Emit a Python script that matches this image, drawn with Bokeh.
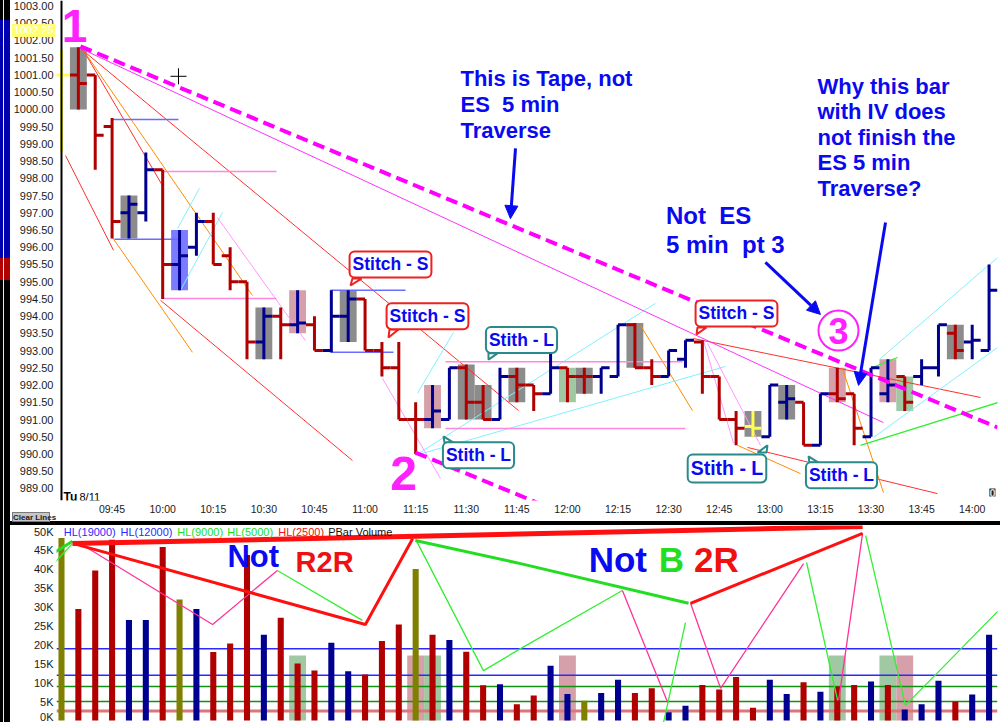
from bokeh.plotting import figure
from bokeh.models import (Range1d, FixedTicker, PrintfTickFormatter, Label, Arrow,
                          NormalHead, Div, Span)
from bokeh.layouts import column, row
from bokeh.core.properties import value
from bokeh.embed import file_html
from bokeh.resources import INLINE

# ---------------- data ----------------
TIMES = ["09:30", "09:35", "09:40", "09:45", "09:50", "09:55", "10:00", "10:05", "10:10", "10:15",
         "10:20", "10:25", "10:30", "10:35", "10:40", "10:45", "10:50", "10:55", "11:00", "11:05",
         "11:10", "11:15", "11:20", "11:25", "11:30", "11:35", "11:40", "11:45", "11:50", "11:55",
         "12:00", "12:05", "12:10", "12:15", "12:20", "12:25", "12:30", "12:35", "12:40", "12:45",
         "12:50", "12:55", "13:00", "13:05", "13:10", "13:15", "13:20", "13:25", "13:30", "13:35",
         "13:40", "13:45", "13:50", "13:55", "14:00", "14:05"]
OPEN = [1001.0, 1001.0, 1001.0, 999.5, 997.0, 997.0, 998.25, 995.5, 996.0, 996.75,
        995.75, 995.0, 993.25, 994.0, 993.75, 993.75, 993.0, 994.0, 994.5, 993.0,
        992.5, 991.0, 991.0, 991.0, 992.5, 991.5, 991.0, 992.25, 992.0, 991.75,
        992.5, 992.25, 992.25, 992.25, 993.75, 992.5, 992.25, 992.75, 993.25, 992.25,
        991.0, 990.8, 990.5, 991.5, 991.5, 990.25, 991.75, 991.75, 990.5, 991.75,
        992.25, 992.25, 992.5, 993.5, 993.25, 993.0]
HIGH = [1001.75, 1001.8, 1001.0, 999.75, 997.5, 998.75, 998.25, 996.5, 997.0, 997.0,
        996.0, 995.0, 994.25, 994.25, 994.75, 994.0, 994.75, 994.75, 994.5, 993.25,
        993.25, 991.5, 992.0, 992.5, 992.6, 992.0, 992.5, 992.5, 992.0, 993.0,
        992.5, 992.5, 992.5, 993.75, 993.8, 992.75, 993.0, 993.3, 993.3, 992.25,
        991.25, 991.25, 992.0, 992.0, 991.5, 991.75, 992.5, 991.75, 992.5, 992.75,
        992.25, 992.75, 993.75, 993.75, 993.75, 995.5]
LOW = [998.75, 1000.0, 998.25, 996.25, 996.25, 996.75, 994.5, 994.75, 995.75, 995.5,
       994.75, 992.75, 992.75, 992.75, 993.5, 993.0, 992.95, 993.25, 993.0, 992.25,
       991.0, 990.0, 990.75, 991.0, 991.0, 991.0, 991.0, 991.5, 991.25, 991.75,
       991.5, 991.75, 991.75, 992.25, 992.5, 992.0, 992.25, 992.5, 991.75, 991.0,
       990.25, 990.5, 990.5, 991.0, 990.25, 990.25, 991.5, 990.25, 990.5, 991.5,
       991.25, 992.0, 992.25, 992.75, 992.75, 993.0]
CLOSE = [1001.0, 1000.75, 999.25, 996.75, 997.25, 998.25, 995.5, 995.75, 996.75, 995.5,
         995.0, 993.25, 994.0, 993.75, 993.8, 993.0, 994.0, 994.5, 993.0, 992.5,
         991.0, 991.0, 991.25, 992.5, 991.5, 991.0, 992.25, 992.0, 991.75, 992.5,
         992.25, 992.25, 992.5, 993.75, 992.5, 992.25, 993.0, 993.3, 992.25, 991.0,
         990.75, 990.75, 992.0, 991.6, 990.25, 991.75, 991.6, 990.75, 992.5, 992.0,
         991.5, 992.5, 993.75, 993.0, 993.3, 994.75]
BAR_KIND = ["yellow", "red", "red", "red", "blue", "blue", "red", "blue", "blue", "red",
            "red", "red", "blue", "red", "blue", "red", "blue", "blue", "red", "red",
            "red", "red", "blue", "blue", "red", "red", "blue", "red", "red", "blue",
            "red", "red", "blue", "blue", "red", "red", "blue", "blue", "red", "red",
            "red", "yellow", "blue", "blue", "red", "blue", "red", "red", "blue", "blue",
            "red", "blue", "blue", "red", "blue", "blue"]
PRICE_BOXES = [("09:35", "gray"), ("09:50", "gray"), ("10:05", "blue"), ("10:30", "gray"),
               ("10:40", "pink"), ("10:55", "gray"), ("11:20", "pink"), ("11:30", "gray"),
               ("11:35", "gray"), ("11:45", "gray"), ("12:00", "green"), ("12:05", "gray"),
               ("12:20", "gray"), ("12:55", "gray"), ("13:05", "gray"), ("13:20", "pink"),
               ("13:35", "pink"), ("13:40", "green"), ("13:55", "gray")]

VOLUME = [48300, 29500, 39700, 47800, 26600, 26600, 45900, 32000, 29500, 18100,
          20400, 43800, 22700, 27200, 15100, 13200, 20600, 13000, 12200, 21000,
          25400, 40100, 22700, 21300, 18200, 9300, 9600, 4300, 6600, 14500,
          7000, 5200, 7300, 10800, 7300, 8500, 2200, 3900, 9400, 8200,
          11500, 3400, 10800, 7000, 10100, 7600, 9000, 9400, 10300, 9400,
          2900, 4300, 10500, 5000, 6900, 22700]
VOL_KIND = ["olive", "red", "red", "red", "blue", "blue", "red", "olive", "blue", "red",
            "red", "red", "blue", "red", "red", "red", "blue", "blue", "red", "red",
            "red", "olive", "red", "blue", "red", "red", "blue", "red", "red", "blue",
            "blue", "olive", "blue", "blue", "red", "red", "blue", "blue", "red", "red",
            "red", "red", "blue", "blue", "red", "blue", "red", "red", "blue", "red",
            "blue", "blue", "blue", "red", "blue", "blue"]
VOL_BOXES = [("10:40", "green"), ("11:15", "pink"), ("11:20", "green"), ("12:00", "pink"),
             ("13:20", "green"), ("13:35", "green"), ("13:40", "pink")]
VOL_BOX_LEVEL = 17200
HL_LEVELS = [19000, 12000, 9000, 5000, 2500]
HL_KIND = ["blue", "blue", "green", "green", "red"]

PRICE_TICKS = [989.0 + 0.5 * i for i in range(29)]
TIME_TICKS = ["09:45", "10:00", "10:15", "10:30", "10:45", "11:00", "11:15", "11:30", "11:45",
              "12:00", "12:15", "12:30", "12:45", "13:00", "13:15", "13:30", "13:45", "14:00"]
VOL_TICKS = [0, 5000, 10000, 15000, 20000, 25000, 30000, 35000, 40000, 45000, 50000]

# drawn trend lines (minutes after 09:30, price)
MAGENTA_DASHED = [((5.63, 1001.83), (277.5, 990.77)), ((104.95, 990.04), (155.35, 988.01))]
MAGENTA_THIN = [((5.63, 1001.77), (243.7, 990.91))]
RED_THIN = [((5.63, 1001.77), (135.5, 991.26)), ((6.52, 1001.71), (29.94, 997.79)),
            ((1.19, 998.66), (15.42, 995.91)), ((29.35, 994.46), (86.27, 989.81)),
            ((187.37, 993.35), (272.46, 991.64)), ((203.38, 990.19), (259.7, 988.85))]
ORANGE = [((6.52, 1001.71), (56.63, 994.60)), ((15.12, 996.28), (38.84, 992.95)),
          ((171.66, 993.73), (187.07, 991.26)), ((200.42, 990.25), (219.1, 989.43)),
          ((231.54, 992.48), (243.7, 988.88))]
CYAN = [((34.39, 996.54), (40.91, 997.71)), ((35.28, 994.75), (47.73, 997.01)),
        ((104.95, 989.96), (176.1, 994.37)), ((104.95, 989.96), (196.86, 992.54)),
        ((105.54, 991.76), (116.22, 993.53)), ((240.74, 990.48), (277.5, 993.09)),
        ((242.8, 992.77), (277.5, 995.70))]
LIGHT_PINK = [((46.25, 996.86), (72.34, 993.29)), ((95.17, 992.19), (112.36, 989.29)),
              ((190.33, 993.29), (199.23, 990.31)), ((191.52, 993.21), (207.23, 990.25))]
GREEN_LINES = [((236.88, 990.25), (277.8, 991.5)), ((240.44, 992.51), (247.85, 992.8))]
BLUE_LEVELS = [(14.82, 34.69, 999.71), (15.71, 34.69, 996.23), (79.75, 101.99, 994.75),
               (79.75, 98.43, 992.95)]
PINK_LEVELS = [(30.24, 63.74, 998.20), (30.24, 63.74, 994.51), (113.84, 184.11, 992.68),
               (113.84, 185.0, 990.74)]

# volume pane drawings (minutes, volume)
VOL_RED_THICK = [[(3.26, 46800), (237.5, 51300)]]
VOL_RED = [[(3.56, 46800), (90.1, 25400), (104.1, 48100)], [(186.5, 31000), (237.5, 49500)]]
VOL_GREEN_THICK = [[(-14.5, 37600), (3.26, 47400)],
                   [(104.9, 47600), (136.1, 41500), (185.9, 31000)]]
VOL_GREEN = [[(-14.5, 29900), (3.26, 46800)], [(64.0, 39700), (89.2, 26500)],
             [(105.2, 47600), (125.1, 13200), (136.1, 19000), (166.3, 34400)],
             [(178.5, -500), (185.0, 25900)], [(220.9, 41800), (230.1, 5300)],
             [(238.4, 48900), (250.2, 4000), (278.4, 29600)]]
VOL_PINK = [[(6.5, 46300), (44.8, 25400), (64.0, 39700)], [(166.3, 34400), (179.7, 4800)],
            [(186.5, 31000), (195.4, 8500), (220.0, 41500)], [(230.4, 5300), (237.5, 49500)]]

# annotations
NB = "\u00a0"
NOTES = [("This is Tape, not\nES" + NB + " 5 min\nTraverse", 118.29, 1001.25, 22, 1.04),
         ("Why this bar\nwith IV does\nnot finish the\nES 5 min\nTraverse?", 224.13, 1001.04, 22, 1.02),
         ("Not" + NB + " ES\n5 min" + NB + " pt 3", 179.22, 997.30, 24, 1.07)]
POINTS = [("1", 3.85, 1002.42, 46), ("2", 101.39, 989.43, 48), ("3", 230.36, 993.58, 36)]
ARROWS = [((134.6, 998.87), (133.1, 996.83)), ((208.7, 995.56), (225.0, 994.05)),
          ((244.3, 996.72), (236.3, 991.99))]
CALLOUTS = [("Stitch - S", 97.54, 995.50, "S", 17.5), ("Stitch - S", 108.51, 994.00, "S", 17.5),
            ("Stith - L", 136.38, 993.31, "L", 17.5), ("Stith - L", 123.63, 989.96, "L", 17.5),
            ("Stitch - S", 200.12, 994.08, "S", 17.5), ("Stith - L", 197.3, 989.58, "L", 19.5),
            ("Stith - L", 231.25, 989.38, "L", 17.5)]
CALLOUT_TAILS = [("S", [86.27, 88.94, 85.68], [995.09, 995.09, 994.89]),
                 ("S", [97.24, 99.91, 96.95], [993.61, 993.61, 993.38]),
                 ("L", [126.59, 129.26, 126.59], [992.92, 992.92, 992.74]),
                 ("L", [113.55, 116.22, 113.25], [990.33, 990.33, 990.51]),
                 ("S", [188.56, 191.22, 188.26], [993.67, 993.67, 993.47]),
                 ("L", [206.35, 209.01, 209.31], [990.04, 990.04, 990.25]),
                 ("L", [221.76, 224.43, 221.47], [989.75, 989.75, 989.93])]
VOL_NOTES = [("Not", 49.2, 47900, 31, "blue"), ("R2R", 69.4, 46200, 29, "red"),
             ("Not", 156.3, 47800, 35, "blue"), ("B", 177.1, 47800, 35, "green"),
             ("2R", 187.5, 47800, 35, "red")]
HL_LEGEND = [("HL(19000)", 0.68, "blue"), ("HL(12000)", 17.49, "blue"), ("HL(9000)", 34.3, "green"),
             ("HL(5000)", 49.13, "green"), ("HL(2500)", 64.25, "red"), ("PBar Volume", 79.07, "black")]
CURSOR = (34.69, 1000.96)
PRICE_MARK_TEXT = "1002.25"

# ---------------- styling ----------------
FONT = "Liberation Sans"
X_START, X_END = -1.48, 277.5


def fs(v):
    return f"{v:.1f}px"


def tmin(s):
    h, m = s.split(":")
    return (int(h) - 9) * 60 + int(m) - 30


BAR_COL = {"red": "#b00000", "blue": "#000090", "yellow": "#ffff50"}
BOX_COL = {"gray": "#8c8c8c", "pink": "#d6a0aa", "blue": "#7b7bff", "green": "#a0c9a3"}
VOL_COL = {"red": "#b00000", "blue": "#000090", "olive": "#808000"}
HL_COL = {"blue": "#2a2aff", "green": "#109010", "red": "#d87878"}
TXT_COL = {"blue": "#0a0af0", "red": "#ee1111", "green": "#22dd22", "black": "#111111"}
CALL_COL = {"S": "#ee2020", "L": "#2a8a8a"}
MAG = "#ff22ff"

X = [tmin(t) for t in TIMES]
HALF = 2.5


def style_axis(ax, size, standoff):
    ax.major_label_text_font = FONT
    ax.major_label_text_font_size = fs(size)
    ax.major_label_text_color = "#1a1a1a"
    ax.axis_line_color = None
    ax.major_tick_line_color = None
    ax.minor_tick_line_color = None
    ax.major_tick_out = 0
    ax.major_tick_in = 0
    ax.minor_tick_out = 0
    ax.minor_tick_in = 0
    ax.major_label_standoff = standoff


# ---------------- price figure ----------------
p1 = figure(width=990, height=521, x_range=Range1d(X_START, X_END),
            y_range=Range1d(988.65, 1003.16), output_backend="svg", toolbar_location=None,
            min_border_left=46, min_border_right=3, min_border_top=0, min_border_bottom=21)
p1.grid.visible = False
p1.outline_line_color = None

p1.yaxis.ticker = FixedTicker(ticks=PRICE_TICKS)
p1.yaxis.formatter = PrintfTickFormatter(format="%.2f")
style_axis(p1.yaxis[0], 11, 3)
p1.xaxis.ticker = FixedTicker(ticks=[tmin(t) for t in TIME_TICKS])
p1.xaxis.major_label_overrides = {tmin(t): t for t in TIME_TICKS}
style_axis(p1.xaxis[0], 10.5, 2)

# shaded boxes
idx = {t: i for i, t in enumerate(TIMES)}
bx = [X[idx[t]] for t, _ in PRICE_BOXES]
p1.quad(left=[v - HALF for v in bx], right=[v + HALF for v in bx],
        bottom=[LOW[idx[t]] for t, _ in PRICE_BOXES], top=[HIGH[idx[t]] for t, _ in PRICE_BOXES],
        fill_color=[BOX_COL[k] for _, k in PRICE_BOXES], line_color=None)


def seglist(lines):
    return ([a[0] for a, b in lines], [a[1] for a, b in lines],
            [b[0] for a, b in lines], [b[1] for a, b in lines])


for lines, col, w in [(RED_THIN, "#ff3030", 1), (ORANGE, "#ff8c00", 1), (CYAN, "#80f0ff", 1),
                      (LIGHT_PINK, "#ff99ff", 1), (GREEN_LINES, "#33ee33", 1.3),
                      (MAGENTA_THIN, "#ff30ff", 1)]:
    x0, y0, x1, y1 = seglist(lines)
    p1.segment(x0, y0, x1, y1, line_color=col, line_width=w)

p1.segment([a for a, b, c in BLUE_LEVELS], [c for a, b, c in BLUE_LEVELS],
           [b for a, b, c in BLUE_LEVELS], [c for a, b, c in BLUE_LEVELS],
           line_color="#6b6bff", line_width=1.5)
p1.segment([a for a, b, c in PINK_LEVELS], [c for a, b, c in PINK_LEVELS],
           [b for a, b, c in PINK_LEVELS], [c for a, b, c in PINK_LEVELS],
           line_color="#ff88dd", line_width=1.5)

# price-axis line at the session start
p1.add_layout(Span(location=X[0], dimension="height", line_color="black", line_width=2))

# bars
cols = [BAR_COL[k] for k in BAR_KIND]
p1.segment(X, LOW, X, HIGH, line_color=cols, line_width=3)
p1.segment([v - HALF for v in X], OPEN, X, OPEN, line_color=cols, line_width=3)
p1.segment(X, CLOSE, [v + HALF for v in X], CLOSE, line_color=cols, line_width=3)

x0, y0, x1, y1 = seglist(MAGENTA_DASHED)
p1.segment(x0, y0, x1, y1, line_color="#ff00ff", line_width=4, line_dash="12 6")

# callouts
for kind, xs, ys in CALLOUT_TAILS:
    p1.patch(xs + [xs[0]], ys + [ys[0]], fill_color="white", line_color=CALL_COL[kind], line_width=2)
for txt, cx, cy, kind, size in CALLOUTS:
    p1.add_layout(Label(x=cx, y=cy, text=txt, text_font=FONT, text_font_size=fs(size),
                        text_font_style="bold", text_color=TXT_COL["blue"], text_align="center",
                        text_baseline="middle", background_fill_color="white",
                        border_line_color=CALL_COL[kind], border_line_width=2,
                        padding=3, border_radius=5))

# notes
for txt, tx, ty, size, lh in NOTES:
    p1.text(x=[tx], y=[ty], text=[txt], text_font=value(FONT), text_font_size=fs(size),
            text_font_style="bold", text_color=TXT_COL["blue"], text_align="left",
            text_baseline="top", text_line_height=lh)
for txt, tx, ty, size in POINTS:
    p1.text(x=[tx], y=[ty], text=[txt], text_font=value(FONT), text_font_size=fs(size),
            text_font_style="bold", text_color=MAG, text_align="center", text_baseline="middle")
p1.scatter(x=[POINTS[2][1]], y=[POINTS[2][2]], marker="circle", size=40,
           fill_color=None, line_color=MAG, line_width=2)

for (xa, ya), (xb, yb) in ARROWS:
    p1.add_layout(Arrow(end=NormalHead(size=13, line_color=TXT_COL["blue"],
                                       fill_color=TXT_COL["blue"]),
                        x_start=xa, y_start=ya, x_end=xb, y_end=yb,
                        line_color=TXT_COL["blue"], line_width=3))

p1.scatter(x=[CURSOR[0]], y=[CURSOR[1]], marker="cross", size=16, line_color="black",
           line_width=1)

p1.add_layout(Label(x=7, y=4, x_units="screen", y_units="screen", text="Tu",
                    text_font=FONT, text_font_size=fs(12), text_font_style="bold",
                    text_color="black", text_align="left", text_baseline="middle"))
p1.add_layout(Label(x=23, y=4, x_units="screen", y_units="screen", text="8/11",
                    text_font=FONT, text_font_size=fs(11), text_color="black",
                    text_align="left", text_baseline="middle"))
p1.add_layout(Label(x=276.0, y=988.88, text="0", text_font=FONT, text_font_size=fs(11),
                    text_font_style="bold", text_color="#d8d8d8", text_align="center",
                    text_baseline="middle", background_fill_color="#202020"))

# ---------------- volume figure ----------------
p2 = figure(width=990, height=197, x_range=Range1d(X_START, X_END),
            y_range=Range1d(-530, 51590), output_backend="svg", toolbar_location=None,
            x_axis_location=None, min_border_left=46, min_border_right=3,
            min_border_top=0, min_border_bottom=0)
p2.grid.visible = False
p2.outline_line_color = None
p2.yaxis.ticker = FixedTicker(ticks=VOL_TICKS)
p2.yaxis.major_label_overrides = {v: f"{v // 1000}K" for v in VOL_TICKS}
style_axis(p2.yaxis[0], 11, 3)

vbx = [X[idx[t]] for t, _ in VOL_BOXES]
p2.vbar(x=vbx, width=5, bottom=0, top=VOL_BOX_LEVEL,
        fill_color=[BOX_COL[k] for _, k in VOL_BOXES], line_color=None)
for lvl, k in zip(HL_LEVELS, HL_KIND):
    p2.line(x=[X_START, X_END], y=[lvl, lvl], line_color=HL_COL[k],
            line_width=3 if k == "red" else 1.5)
p2.vbar(x=X, width=1.8, bottom=0, top=VOLUME, fill_color=[VOL_COL[k] for k in VOL_KIND],
        line_color=None)


def ml(groups):
    return [[pt[0] for pt in g] for g in groups], [[pt[1] for pt in g] for g in groups]


for groups, col, w in [(VOL_GREEN, "#33ee33", 1.3), (VOL_PINK, "#ff3399", 1.3),
                       (VOL_GREEN_THICK, "#22dd22", 3), (VOL_RED, "#ff1010", 3),
                       (VOL_RED_THICK, "#ff1010", 5)]:
    xs, ys = ml(groups)
    p2.multi_line(xs, ys, line_color=col, line_width=w)

for txt, tx, ty, size, k in VOL_NOTES:
    p2.text(x=[tx], y=[ty], text=[txt], text_font=value(FONT), text_font_size=fs(size),
            text_font_style="bold", text_color=TXT_COL[k], text_align="left", text_baseline="top")
for txt, tx, k in HL_LEGEND:
    p2.text(x=[tx], y=[49870], text=[txt], text_font=value(FONT), text_font_size=fs(11),
            text_color=TXT_COL[k] if k != "blue" else "#2a2aff", text_align="left",
            text_baseline="middle")

# ---------------- layout ----------------
overlay_html = (
    '<div style="position:absolute;left:12px;top:24px;width:43px;height:13px;'
    'background:#ffff70;color:#ffffff;font:11px \'Liberation Sans\';line-height:13px;'
    'text-align:center;z-index:100;">' + PRICE_MARK_TEXT + '</div>'
    '<div style="position:absolute;left:12px;top:512px;width:38px;height:10px;'
    'background:#c6c6c6;border:1px solid #7a7a7a;color:#202020;'
    'font:bold 8px \'Liberation Sans\';line-height:10px;text-align:center;'
    'white-space:nowrap;z-index:100;">Clear Lines</div>'
)
strip = Div(text=overlay_html, width=10, height=722, margin=0,
            styles={"background": "linear-gradient(to right, transparent 0 3px, #ffff50 3px 4px, transparent 4px), "
                                  "linear-gradient(to bottom, #000 0 20px, #0000b0 20px 258px, "
                                  "#b00000 258px 280px, #000 280px)",
                    "overflow": "visible", "z-index": "100", "position": "relative"})
sep = Div(text="", width=990, height=4, margin=0, styles={"background": "#000000"})
layout = row(strip, column(p1, sep, p2, spacing=0), spacing=0)

open("out.html", "w").write(file_html(layout, INLINE))
